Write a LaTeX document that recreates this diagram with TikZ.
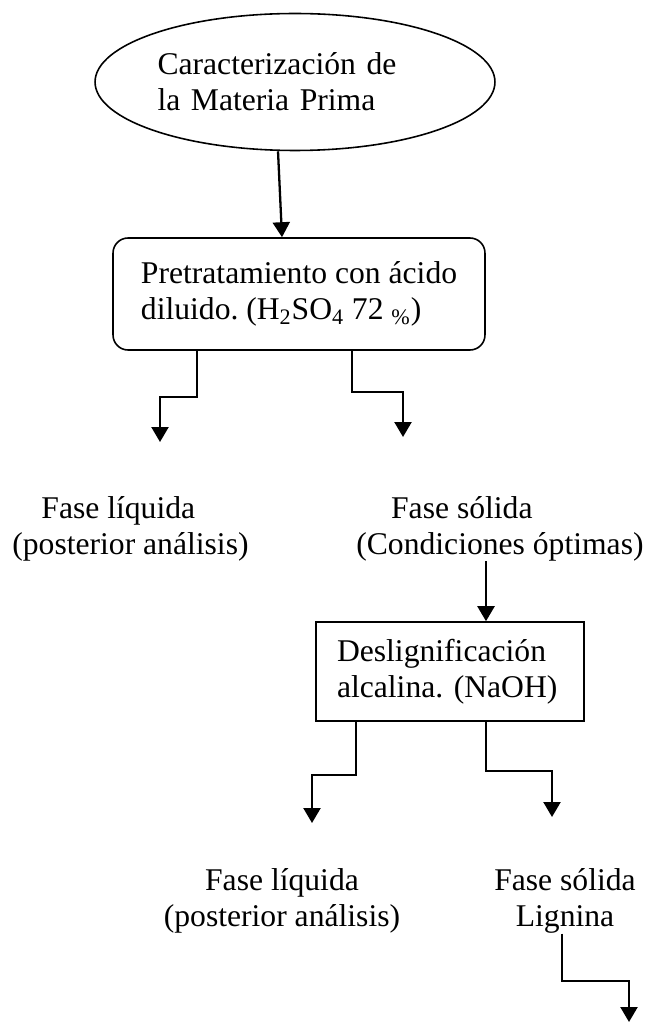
\documentclass[tikz,border=0pt]{standalone}
\usepackage{fontspec}
\setmainfont{Liberation Serif}
\usetikzlibrary{arrows.meta}
\usetikzlibrary{positioning}
\usetikzlibrary{shapes.geometric}
\tikzset{arr/.style = {draw, line width = 1.3pt, -{Triangle[width = 0.34cm, length = 0.3cm]}}}
\tikzset{caja/.style = {draw, line width = 0.9pt, align = left, inner sep = 0}}
\tikzset{fase/.style = {inner sep = 0}}
\frenchspacing

\begin{document}
\begin{tikzpicture}[x = 0.02cm, y = -0.02cm, font = \fontsize{18}{20.5}\selectfont]
    \useasboundingbox (0, 0) rectangle (646, 1023);
    \node [caja, ellipse, minimum width = 8cm, minimum height = 2.74cm, text width = 5.5cm] (cara) at (295, 82) {Caracterización de\\la Materia Prima};
    \node [caja, rounded corners = 0.3cm, minimum width = 7.44cm, minimum height = 2.24cm] (pre) at (299, 294) {Pretratamiento con ácido\\diluido. (H\textsubscript{2}SO\textsubscript{4} 72 \textsubscript{\%})};
    \draw [arr] ([xshift = -0.34cm] cara.south) -- ([xshift = -0.34cm] pre.north);
    \coordinate (pl) at (197, 397);
    \coordinate (plf) at (160, 442);
    \coordinate (pr) at (352, 392);
    \coordinate (prf) at (403, 437);
    \draw [arr] (pre.south -| pl) -- (pl) -| (plf);
    \draw [arr] (pre.south -| pr) -- (pr) -| (prf);
    \node [fase, anchor = north west, align = left] (liq1) at (12, 496) {\hspace*{0.92em}Fase líquida\\(posterior análisis)};
    \node [fase, anchor = north west, align = left] (sol1) at (356, 496) {\hspace*{1.1em}Fase sólida\\(Condiciones óptimas)};
    \node [caja, minimum width = 5.36cm, minimum height = 1.98cm, text width = 4.52cm] (des) at (450, 671.5) {Deslignificación\\alcalina. (NaOH)};
    \coordinate (ds) at (486, 0);
    \draw [arr] (sol1.south -| ds) -- (des.north -| ds);
    \coordinate (dl) at (356, 775);
    \coordinate (dlf) at (312, 823);
    \coordinate (dr) at (486, 771);
    \coordinate (drf) at (552, 817);
    \draw [arr] (des.south -| dl) -- (dl) -| (dlf);
    \draw [arr] (des.south -| dr) -- (dr) -| (drf);
    \node [fase, anchor = north, align = center] (liq2) at (282, 868) {Fase líquida\\(posterior análisis)};
    \node [fase, anchor = north, align = center] (sol2) at (565, 868) {Fase sólida\\Lignina};
    \coordinate (lg) at (562, 981);
    \coordinate (lgf) at (629, 1022);
    \draw [arr] (sol2.south -| lg) -- (lg) -| (lgf);
\end{tikzpicture}
\end{document}
